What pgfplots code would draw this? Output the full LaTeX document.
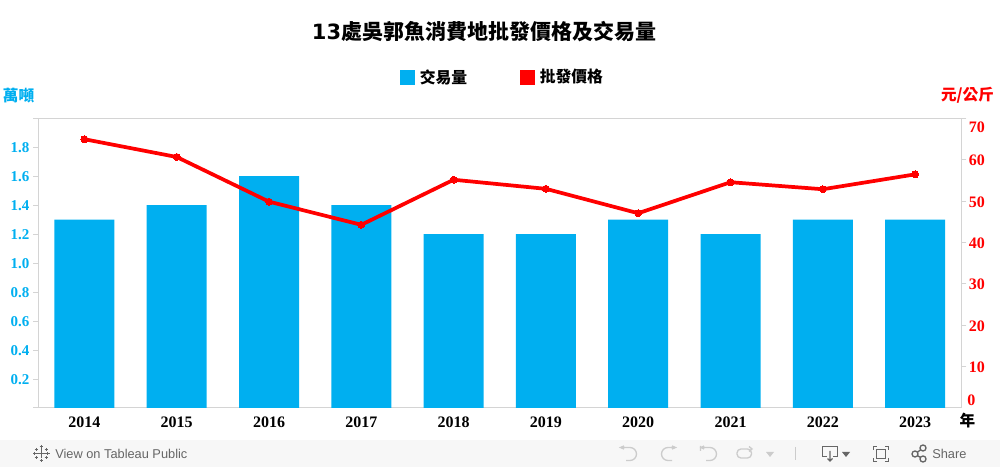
\documentclass[border=0pt]{standalone}
\usepackage{pgfplots}
\usepackage{pgfplotstable}
\usepackage{fontspec}
\pgfplotsset{compat=1.18}
\setmainfont{Liberation Serif}
\newfontfamily\cjk{Noto Sans CJK TC}
\newfontfamily\djv{DejaVu Sans}
\newfontfamily\ui{Liberation Sans}
\definecolor{barblue}{HTML}{00AFF0}
\definecolor{axgray}{HTML}{D4D4D4}
\definecolor{uidark}{HTML}{666666}
\definecolor{uilight}{HTML}{CCCCCC}
\definecolor{footbg}{HTML}{F7F7F7}
\pgfplotstableread{
yr vol price
0 1.3 65.0
1 1.4 60.7
2 1.6 49.9
3 1.4 44.3
4 1.2 55.2
5 1.2 53.0
6 1.3 47.1
7 1.2 54.6
8 1.3 52.9
9 1.3 56.5
}\datatable
\begin{document}
\begin{tikzpicture}[x=0.75pt,y=0.75pt]
\path (0,0) rectangle (1000,467);
\fill[footbg] (0,0) rectangle (1000,27);
\begin{axis}[
  at={(28.7pt,44.25pt)},anchor=south west,scale only axis,
  width=692.25pt,height=217.1pt,
  xmin=-0.5,xmax=9.5,ymin=0,ymax=1.9965,
  axis line style={axgray,line width=0.75pt},
  every tick/.style={axgray,line width=0.75pt},
  tick align=outside,
  major tick length=3.75pt,
  minor tick length=3.75pt,
  xtick pos=bottom,ytick pos=left,
  xtick={0,...,9},
  xticklabels={2014,2015,2016,2017,2018,2019,2020,2021,2022,2023},
  x tick style={draw=none},
  minor xtick={-0.5,0.5,1.5,2.5,3.5,4.5,5.5,6.5,7.5,8.5,9.5},
  minor x tick style={axgray,line width=0.75pt},
  xticklabel style={font=\fontsize{12}{12}\selectfont\bfseries,text=black,yshift=0.6pt},
  ytick={0,0.2,0.4,0.6,0.8,1.0,1.2,1.4,1.6,1.8,1.9965},
  yticklabels={,0.2,0.4,0.6,0.8,1.0,1.2,1.4,1.6,1.8,},
  yticklabel style={font=\fontsize{11.25}{12}\selectfont\bfseries,text=barblue,xshift=0.6pt,yshift=-0.6pt},
]
\addplot[ybar,bar width=45pt,bar shift=0pt,fill=barblue,draw=none] table[x=yr,y=vol]{\datatable};
\end{axis}
\begin{axis}[
  at={(28.7pt,44.25pt)},anchor=south west,scale only axis,
  width=692.25pt,height=217.1pt,
  xmin=-0.5,xmax=9.5,ymin=0,ymax=70,
  axis x line=none,
  axis y line*=right,
  axis line style={axgray,line width=0.75pt,-},
  every tick/.style={axgray,line width=0.75pt},
  tick align=outside,
  major tick length=3.75pt,
  ytick={10,20,30,40,50,60,70},
  yticklabels={10,20,30,40,50,60,\raisebox{-10pt}[0pt][0pt]{70}},
  extra y ticks={0},
  extra y tick labels={\raisebox{2.4pt}[0pt][0pt]{0}},
  extra y tick style={major tick length=0pt,yticklabel style={xshift=2.5pt}},
  yticklabel style={font=\fontsize{12}{12}\selectfont\bfseries,text=red,anchor=west,xshift=-1.5pt,yshift=-0.4pt},
  legend style={at={(0.3919,1.143)},anchor=west,draw=none,fill=none,inner sep=0pt,outer sep=0pt,
    font=\cjk\bfseries\fontsize{11.85}{12}\selectfont,legend columns=2,
    cells={anchor=west},
    /tikz/column 2/.style={column sep=37.5pt}},
]
\addplot[forget plot,red,line width=2.8pt,mark=*,mark size=2.6pt,mark options={fill=red,draw=red,line width=0pt},line join=round] table[x=yr,y=price]{\datatable};
\addlegendimage{legend image code/.code={\fill[barblue] (0pt,-5.25pt) rectangle (10.5pt,5.25pt);\path (12.5pt,0pt);}}
\addlegendentry{交易量}
\addlegendimage{legend image code/.code={\fill[red] (0pt,-5.25pt) rectangle (10.5pt,5.25pt);\path (12.5pt,0pt);}}
\addlegendentry{批發價格}
\end{axis}
\begin{scope}[shift={(0,467)},yscale=-1,every node/.style={inner sep=0pt}]
\node[font=\cjk\bfseries\fontsize{15.75}{16}\selectfont,text=black] at (484,32) {{\djv 13}處吳郭魚消費地批發價格及交易量};
\node[font=\cjk\bfseries\fontsize{11.7}{12}\selectfont,text=barblue] at (18.5,95.5) {萬噸};
\node[font=\cjk\bfseries\fontsize{11.7}{12}\selectfont,text=red] at (967.5,95) {元/公斤};
\node[font=\cjk\bfseries\fontsize{11.7}{12}\selectfont,text=black] at (967.5,421) {年};
\node[anchor=west,font=\ui\fontsize{9.6}{10}\selectfont,text=uidark,inner sep=0pt] at (55,453.5) {View on Tableau Public};
\node[anchor=west,font=\ui\fontsize{9.6}{10}\selectfont,text=uidark,inner sep=0pt] at (932,453.5) {Share};
% tableau logo
\begin{scope}[uidark,line width=0.7pt]
\draw (41,448.5) -- (41,458.5) (36,453.5) -- (46,453.5);
\draw (41,445) -- (41,448) (39.5,446.5) -- (42.5,446.5);
\draw (41,459) -- (41,462) (39.5,460.5) -- (42.5,460.5);
\draw (33,453.5) -- (36,453.5) (34.5,452) -- (34.5,455);
\draw (46,453.5) -- (49.5,453.5) (47.7,452) -- (47.7,455);
\draw (36,448) -- (36,451) (34.5,449.5) -- (37.5,449.5);
\draw (46,448) -- (46,451) (44.5,449.5) -- (47.5,449.5);
\draw (36,456) -- (36,459) (34.5,457.5) -- (37.5,457.5);
\draw (46,456) -- (46,459) (44.5,457.5) -- (47.5,457.5);
\end{scope}
% undo redo etc
\begin{scope}[uilight,line width=1pt]
\draw (624,449) -- (620.5,447.5) -- (624,446) (620.5,447.5) -- (630,447.5) arc (-90:90:6.5) -- (626,460.5);
\draw (672,449) -- (675.5,447.5) -- (672,446) (675.5,447.5) -- (668,447.5) arc (270:90:6.5) -- (672,460.5);
\draw (700.5,446) -- (700.5,451) (704,449) -- (701,447.5) -- (704,446) (701,447.5) -- (710,447.5) arc (-90:90:6.5) -- (706,460.5);
\draw[rounded corners=3pt] (748,449) -- (737,449) -- (737,458) -- (751.5,458) -- (751.5,449) -- (748,449);
\draw (749,446.5) -- (752,449) -- (749,451.5);
\fill (766,452) -- (774,452) -- (770,457) -- cycle;
\draw (795.5,447) -- (795.5,460);
\end{scope}
\begin{scope}[uidark,line width=1pt]
\draw (827,456.5) -- (822.5,456.5) -- (822.5,446.5) -- (837.5,446.5) -- (837.5,456.5) -- (833,456.5);
\draw (830,451) -- (830,461) (827.5,458.5) -- (830,461) -- (832.5,458.5);
\fill (842,452) -- (850,452) -- (846,457) -- cycle;
\draw (873.5,450) -- (873.5,446.5) -- (877,446.5) (885,446.5) -- (888.5,446.5) -- (888.5,450)
      (888.5,458) -- (888.5,461.5) -- (885,461.5) (877,461.5) -- (873.5,461.5) -- (873.5,458);
\draw (876.5,449.5) rectangle (885.5,458.5);
\draw (915,454) circle (3) (923,448) circle (3) (923,459) circle (3);
\draw (917.5,452.2) -- (920.5,449.8) (917.5,455.6) -- (920.5,457.5);
\end{scope}
\end{scope}
\end{tikzpicture}
\end{document}
